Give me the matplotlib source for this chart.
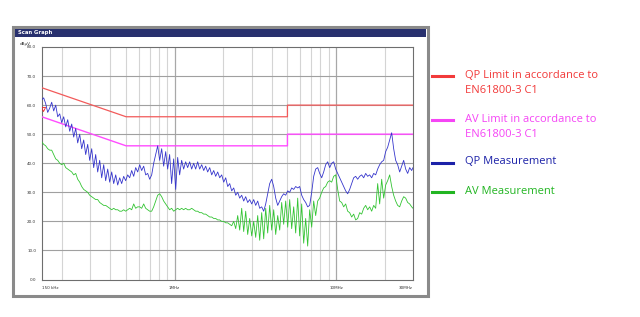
"""
EMI scan graph (QP / AV conducted emissions vs. EN61800-3 C1 limits).
"""

import matplotlib
matplotlib.use("Agg")
import matplotlib.pyplot as plt
from matplotlib.patches import Rectangle
from matplotlib.lines import Line2D
from matplotlib.ticker import NullLocator

# frequency grid of the scan, kHz
FREQ_KHZ = [
    150, 154.3, 158.8, 163.4, 168.2, 173.0, 178.0, 183.2, 188.5, 194.0,
    199.5, 205.3, 211.3, 217.4, 223.7, 230.2, 236.8, 243.7, 250.7, 258.0,
    265.4, 273.1, 281.0, 289.2, 297.5, 306.2, 315.0, 324.1, 333.5, 343.2,
    353.1, 363.3, 373.8, 384.7, 395.8, 407.3, 419.1, 431.2, 443.7, 456.5,
    469.6, 483.2, 497.2, 511.6, 526.4, 541.7, 557.4, 573.5, 590.1, 607.2,
    624.7, 642.8, 661.4, 680.6, 700.3, 720.6, 741.4, 762.9, 785.0, 807.7,
    831, 855, 880, 905, 931, 958, 986, 1015, 1044, 1074,
    1105, 1137, 1170, 1204, 1239, 1275, 1312, 1350, 1389, 1429,
    1471, 1514, 1557, 1602, 1649, 1697, 1746, 1796, 1848, 1902,
    1957, 2014, 2072, 2132, 2194, 2257, 2323, 2390, 2459, 2530,
    2603, 2679, 2756, 2836, 2918, 3003, 3090, 3179, 3271, 3366,
    3463, 3564, 3667, 3773, 3882, 3995, 4110, 4229, 4352, 4478,
    4606, 4740, 4877, 5018, 5163, 5313, 5467, 5625, 5788, 5955,
    6127, 6305, 6487, 6675, 6868, 7067, 7272, 7482, 7699, 7922,
    8151, 8387, 8630, 8880, 9137, 9401, 9673, 9953, 10241, 10538,
    10842, 11156, 11479, 11811, 12153, 12505, 12867, 13239, 13622, 14017,
    14423, 14840, 15270, 15712, 16167, 16635, 17116, 17612, 18121, 18646,
    19185, 19741, 20312, 20900, 21505, 22127, 22768, 23427, 24105, 24803,
    25522, 26261, 27021, 27803, 28608, 29436, 30000,
]

QP_DBUV = [
    61.8, 62.5, 60.5, 57.5, 59, 61, 58, 60, 56, 57,
    54, 56, 52.5, 55, 51, 53.5, 49, 52, 47, 50,
    45, 48, 43, 46.5, 41, 45, 38.5, 43, 37, 41,
    35, 39.5, 34, 38, 33.5, 37, 33, 36, 32.5, 35,
    33, 35.5, 34, 36, 35, 37.5, 35.5, 38.5, 37, 39.5,
    37.5, 39, 36, 36.5, 34.5, 36, 40, 43, 46, 41,
    45, 39, 44, 38, 43, 33, 41.5, 31, 42, 36,
    41, 38, 40.5, 38.5, 40.5, 38, 40, 38, 40.5, 38,
    39.5, 37.5, 39, 37, 38.5, 36, 37.5, 35.5, 37, 35,
    36, 33.5, 35, 32, 33, 30.5, 31.5, 29, 30, 28,
    29, 27, 28.5, 26.5, 27.5, 26, 27.5, 25.5, 27, 24.5,
    25, 23.5, 26, 29.5, 33, 34.5, 32, 28, 25.5, 27,
    28.5, 29.5, 29, 30.5, 30, 31.5, 31, 32, 31.5, 32,
    29, 27.5, 26.5, 25, 25.5, 30, 35.5, 38, 38.5, 36.5,
    35, 37, 39.5, 40.5, 38.5, 40, 40.5, 38, 36.5, 35,
    33.5, 32, 30.5, 29.5, 31, 33, 35, 35.5, 34.5, 35.5,
    36, 35, 36.5, 35.5, 36, 35, 36.5, 36, 38, 39.5,
    40.5, 41, 44, 45.5, 48, 50.5, 45, 41, 39.5, 37,
    39, 41, 38, 36.5, 38.5, 37.5, 38.5,
]

AV_DBUV = [
    47.4, 46.5, 46, 45, 44.5, 44.5, 43, 41.5, 41, 40,
    39.5, 40, 38.5, 38, 37.5, 37, 36, 36.5, 34.5, 33.5,
    32, 31, 30.5, 30, 29, 28.5, 28, 27.5, 27.5, 26.5,
    26, 25.5, 25.5, 25, 24.5, 24, 24.5, 24, 24, 23.5,
    23.5, 24, 23.5, 24, 24.5, 24, 26, 24.5, 25, 25,
    24.5, 26, 24.5, 24, 23.5, 23.5, 25, 27, 29, 29.5,
    28.5, 27, 26, 25, 24, 24.5, 23.5, 24, 24.5, 24,
    24.5, 24, 24.5, 24, 24, 24.5, 24, 23.5, 23.5, 23,
    23, 22.5, 22.5, 22, 21.5, 21.5, 21, 21, 20.5, 20.5,
    20, 20, 19.5, 19.5, 19, 18.5, 20, 17.5, 22, 17,
    24.5, 16.5, 23.5, 15.5, 21, 15, 20, 14.5, 22, 13.5,
    23, 14, 24.5, 16, 25.5, 17, 24, 15.5, 22, 17,
    26.5, 19, 27, 18, 27.5, 17.5, 25, 16, 28, 15,
    26, 12.5, 21, 11.5, 24, 18, 27, 22, 27, 28,
    30, 31.5, 32, 33.5, 34, 33.5, 35.5, 36, 31, 27,
    26.5, 25, 26, 23.5, 23, 21.5, 22.5, 20.5, 21, 23,
    22.5, 24.5, 25.5, 24, 25, 23.5, 25.5, 24.5, 33, 26,
    34.5, 28, 32.5, 34, 36, 32, 29, 27, 25.5, 25,
    27, 28.5, 28, 26.5, 26, 25, 24.5,
]

# EN61800-3 C1 limits
LIMIT_F_KHZ = [150, 500, 5000, 5000, 30000]
QP_LIMIT = [66, 56, 56, 60, 60]
AV_LIMIT = [56, 46, 46, 50, 50]

Y_TICKS = [0, 10, 20, 30, 40, 50, 60, 70, 80]
X_MINOR_KHZ = [200, 300, 400, 500, 600, 700, 800, 900,
               2000, 3000, 4000, 5000, 6000, 7000, 8000, 9000, 20000]
X_MAJOR_KHZ = [1000, 10000]
X_TICKS_KHZ = [150, 1000, 10000, 30000]
X_TICK_LABELS = ["150 kHz", "1MHz", "10MHz", "30MHz"]

LEGEND_LINES = [
    ["QP Limit in accordance to", "EN61800-3 C1"],
    ["AV Limit in accordance to", "EN61800-3 C1"],
    ["QP Measurement"],
    ["AV Measurement"],
]
LEGEND_COLORS = ["#f23a3a", "#f545f5", "#1c22a8", "#22b522"]

W, H = 640, 317


def fx(px):
    return px / W


def fy(py):
    return 1 - py / H


fig = plt.figure(figsize=(6.4, 3.17), dpi=100)
fig.patch.set_facecolor("white")

# window frame + title bar
fig.patches.append(Rectangle((fx(13), fy(296)), fx(428) - fx(13), fy(27) - fy(296),
                             transform=fig.transFigure, facecolor="white",
                             edgecolor="#8a8a8a", linewidth=2.2, zorder=-2))
fig.patches.append(Rectangle((fx(15), fy(36.5)), fx(426) - fx(15), fy(29) - fy(36.5),
                             transform=fig.transFigure, facecolor="#28306e",
                             edgecolor="none", zorder=-1))
fig.text(fx(18), fy(32.8), "Scan Graph", color="white", fontsize=3.8,
         fontweight="bold", va="center", ha="left")
fig.text(fx(20), fy(44), "dBμV", color="#333333", fontsize=3, va="center", ha="left")

ax = fig.add_axes([fx(41.7), fy(279.5), fx(413) - fx(41.7), fy(47) - fy(279.5)])
ax.set_zorder(2)
ax.set_facecolor("white")
ax.set_xscale("log")
ax.set_xlim(150, 30000)
ax.set_ylim(0, 80)

for f in X_MINOR_KHZ:
    ax.axvline(f, color="#d4d4d4", linewidth=0.8, zorder=1)
for f in X_MAJOR_KHZ:
    ax.axvline(f, color="#a8a8a8", linewidth=0.9, zorder=1)
for v in Y_TICKS[1:-1]:
    ax.axhline(v, color="#a0a0a0", linewidth=0.8, zorder=1)

ax.plot(LIMIT_F_KHZ, QP_LIMIT, color="#f25a5a", linewidth=0.9, zorder=3)
ax.plot(LIMIT_F_KHZ, AV_LIMIT, color="#ff4cff", linewidth=1.0, zorder=3)
ax.plot(FREQ_KHZ, AV_DBUV, color="#33c433", linewidth=0.6, zorder=4)
ax.plot(FREQ_KHZ, QP_DBUV, color="#3535cc", linewidth=0.6, zorder=5)
ax.plot([153], [58.5], marker="v", markersize=3, markerfacecolor="none",
        markeredgecolor="#ee2222", markeredgewidth=0.6, linestyle="none", zorder=6)

ax.set_yticks(Y_TICKS)
ax.set_yticklabels([f"{v:.1f}" for v in Y_TICKS])
ax.set_xticks(X_TICKS_KHZ)
ax.set_xticklabels(X_TICK_LABELS)
ax.xaxis.set_minor_locator(NullLocator())
ax.tick_params(length=0, labelsize=3, colors="#333333")
ax.tick_params(axis="y", pad=4)
ax.tick_params(axis="x", pad=5)
xlabels = ax.get_xticklabels()
xlabels[0].set_ha("left")
xlabels[-1].set_ha("right")

for spine in ax.spines.values():
    spine.set_edgecolor("#6e6e6e")
    spine.set_linewidth(0.8)

# legend to the right of the window
legend_y = [75, 119, 161.7, 191]
for lines, color, y in zip(LEGEND_LINES, LEGEND_COLORS, legend_y):
    fig.add_artist(Line2D([fx(432), fx(453)], [fy(y + 1), fy(y + 1)], color=color,
                          linewidth=2.2, transform=fig.transFigure))
    for k, line in enumerate(lines):
        fig.text(fx(465), fy(y + 15.5 * k), line, color=color, fontsize=8.0,
                 family="Open Sans", va="center", ha="left")

fig.savefig("out.png", dpi=100, facecolor=fig.get_facecolor())
